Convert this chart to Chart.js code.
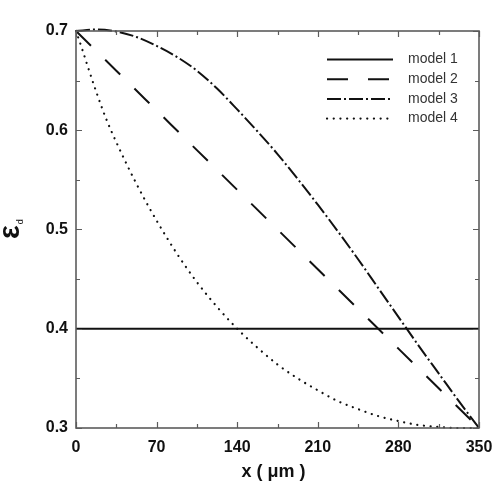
<!DOCTYPE html>
<html>
<head>
<meta charset="utf-8">
<script src="https://cdn.jsdelivr.net/npm/chart.js@4"></script>
<style>
  html, body { margin: 0; padding: 0; background: #fff; }
  canvas { display: block; }
</style>
</head>
<body>
<canvas id="chart" width="497" height="492"></canvas>
<script>
// ── data ─────────────────────────────────────────
const seriesNames = ['model 1', 'model 2', 'model 3', 'model 4'];

const model1X = [0, 350];
const model1Y = [0.4, 0.4];

const model2X = [0, 35, 70, 105, 140, 175, 210, 245, 280, 315, 350];
const model2Y = [0.700, 0.660, 0.620, 0.580, 0.540, 0.500, 0.460, 0.420, 0.380, 0.340, 0.300];

const model3X = [0, 17.5, 35, 52.5, 70, 87.5, 105, 122.5, 140, 157.5, 175, 192.5, 210, 227.5, 245, 262.5, 280, 297.5, 315, 332.5, 350];
const model3Y = [0.700, 0.7015, 0.6995, 0.694, 0.685, 0.674, 0.660, 0.642, 0.621, 0.599, 0.576, 0.551, 0.525, 0.498, 0.470, 0.441, 0.412, 0.383, 0.355, 0.327, 0.300];

const model4X = [0, 5, 10, 17.5, 26, 35, 52.5, 70, 87.5, 105, 122.5, 140, 157.5, 175, 192.5, 210, 227.5, 245, 262.5, 280, 297.5, 315, 332.5, 350];
const model4Y = [0.700, 0.683, 0.665, 0.639, 0.612, 0.588, 0.546, 0.509, 0.476, 0.447, 0.422, 0.400, 0.381, 0.364, 0.350, 0.338, 0.327, 0.319, 0.312, 0.307, 0.303, 0.301, 0.300, 0.300];

// tick labels and tick marks
const xLabels = [0, 70, 140, 210, 280, 350];
const yLabels = [0.3, 0.4, 0.5, 0.6, 0.7];
const xTickMarks = [0, 35, 70, 105, 140, 175, 210, 245, 280, 315, 350];
const yTickMarks = [0.3, 0.35, 0.4, 0.45, 0.5, 0.55, 0.6, 0.65, 0.7];

const xTitle = 'x ( \u03bcm )';
const yTitle = '\u03b5';
const yTitleSub = 'd';

const FONT = '"Liberation Sans", Arial, sans-serif';
const toPoints = (xs, ys) => xs.map((v, i) => ({ x: v, y: ys[i] }));

// ── frame with inward ticks on every side ─────────
const frameTicks = {
  id: 'frameTicks',
  afterDatasetsDraw(chart) {
    const { ctx, chartArea: a, scales: { x, y } } = chart;
    ctx.save();
    ctx.strokeStyle = '#5c5c5c';
    ctx.lineWidth = 1.2;
    ctx.beginPath();
    xTickMarks.forEach(v => {
      const p = Math.round(x.getPixelForValue(v)) + 0.5;
      const len = xLabels.includes(v) ? 6 : 4;
      ctx.moveTo(p, a.bottom); ctx.lineTo(p, a.bottom - len);
      ctx.moveTo(p, a.top); ctx.lineTo(p, a.top + len);
    });
    yTickMarks.forEach(v => {
      const p = Math.round(y.getPixelForValue(v)) + 0.5;
      const len = yLabels.some(l => Math.abs(l - v) < 1e-9) ? 6 : 4;
      ctx.moveTo(a.left, p); ctx.lineTo(a.left + len, p);
      ctx.moveTo(a.right, p); ctx.lineTo(a.right - len, p);
    });
    ctx.stroke();
    ctx.lineWidth = 1.6;
    ctx.strokeRect(a.left, a.top, a.right - a.left, a.bottom - a.top);
    ctx.restore();
  }
};

// ── legend in the upper right of the plot ─────────
const insideLegend = {
  id: 'insideLegend',
  afterDraw(chart) {
    const { ctx, chartArea: a } = chart;
    ctx.save();
    ctx.font = '14px ' + FONT;
    ctx.fillStyle = '#333';
    ctx.textBaseline = 'middle';
    chart.data.datasets.forEach((ds, i) => {
      const yy = a.top + 28.5 + i * 19.7;
      ctx.strokeStyle = ds.borderColor;
      ctx.lineWidth = ds.borderWidth;
      ctx.lineCap = ds.borderCapStyle || 'butt';
      ctx.setLineDash(ds.borderDash || []);
      ctx.beginPath();
      ctx.moveTo(a.right - 152, yy);
      ctx.lineTo(a.right - 86, yy);
      ctx.stroke();
      ctx.setLineDash([]);
      ctx.fillText(ds.label, a.right - 71, yy);
    });
    ctx.restore();
  }
};

// ── axis titles ──────────────────────────────────
const axisTitles = {
  id: 'axisTitles',
  afterDraw(chart) {
    const { ctx, chartArea: a } = chart;
    ctx.save();
    ctx.fillStyle = '#111';
    ctx.font = 'bold 18px ' + FONT;
    ctx.textAlign = 'center';
    ctx.textBaseline = 'alphabetic';
    ctx.fillText(xTitle, (a.left + a.right) / 2 - 4, 477);

    ctx.translate(19, 239);
    ctx.rotate(-Math.PI / 2);
    ctx.textAlign = 'left';
    ctx.font = 'bold 29px ' + FONT;
    ctx.fillText(yTitle, 0, 0);
    const w = ctx.measureText(yTitle).width;
    ctx.font = '9px ' + FONT;
    ctx.fillText(yTitleSub, w + 1, 4);
    ctx.restore();
  }
};

const common = { fill: false, pointRadius: 0, borderColor: '#111', cubicInterpolationMode: 'monotone', clip: 4 };

new Chart(document.getElementById('chart'), {
  type: 'line',
  data: {
    datasets: [
      { ...common, label: seriesNames[0], data: toPoints(model1X, model1Y), borderWidth: 2 },
      { ...common, label: seriesNames[1], data: toPoints(model2X, model2Y), borderWidth: 2, borderDash: [21, 20] },
      { ...common, label: seriesNames[2], data: toPoints(model3X, model3Y), borderWidth: 2, borderDash: [14, 3, 2, 3] },
      { ...common, label: seriesNames[3], data: toPoints(model4X, model4Y), borderWidth: 2.2, borderDash: [0.1, 6.6], borderCapStyle: 'round' }
    ]
  },
  options: {
    responsive: false,
    animation: false,
    devicePixelRatio: 1,
    layout: { padding: { top: 31, right: 18, left: 0, bottom: 0 } },
    plugins: { legend: { display: false }, tooltip: { enabled: false } },
    scales: {
      x: {
        type: 'linear',
        min: 0, max: 350,
        afterBuildTicks: s => { s.ticks = xLabels.map(v => ({ value: v })); },
        afterFit: s => { s.height = 64; s.paddingLeft = 0; s.paddingRight = 0; },
        grid: { display: false, drawTicks: false },
        border: { display: false },
        ticks: {
          padding: 10,
          color: '#111',
          font: { family: FONT, size: 16, weight: 'bold' },
          maxRotation: 0,
          callback: v => String(v)
        }
      },
      y: {
        type: 'linear',
        min: 0.3, max: 0.7,
        afterBuildTicks: s => { s.ticks = yLabels.map(v => ({ value: v })); },
        afterFit: s => { s.width = 76; s.paddingTop = 0; s.paddingBottom = 0; },
        grid: { display: false, drawTicks: false },
        border: { display: false },
        ticks: {
          padding: 8,
          color: '#111',
          font: { family: FONT, size: 16, weight: 'bold' },
          callback: v => v.toFixed(1)
        }
      }
    }
  },
  plugins: [frameTicks, insideLegend, axisTitles]
});
</script>
</body>
</html>
